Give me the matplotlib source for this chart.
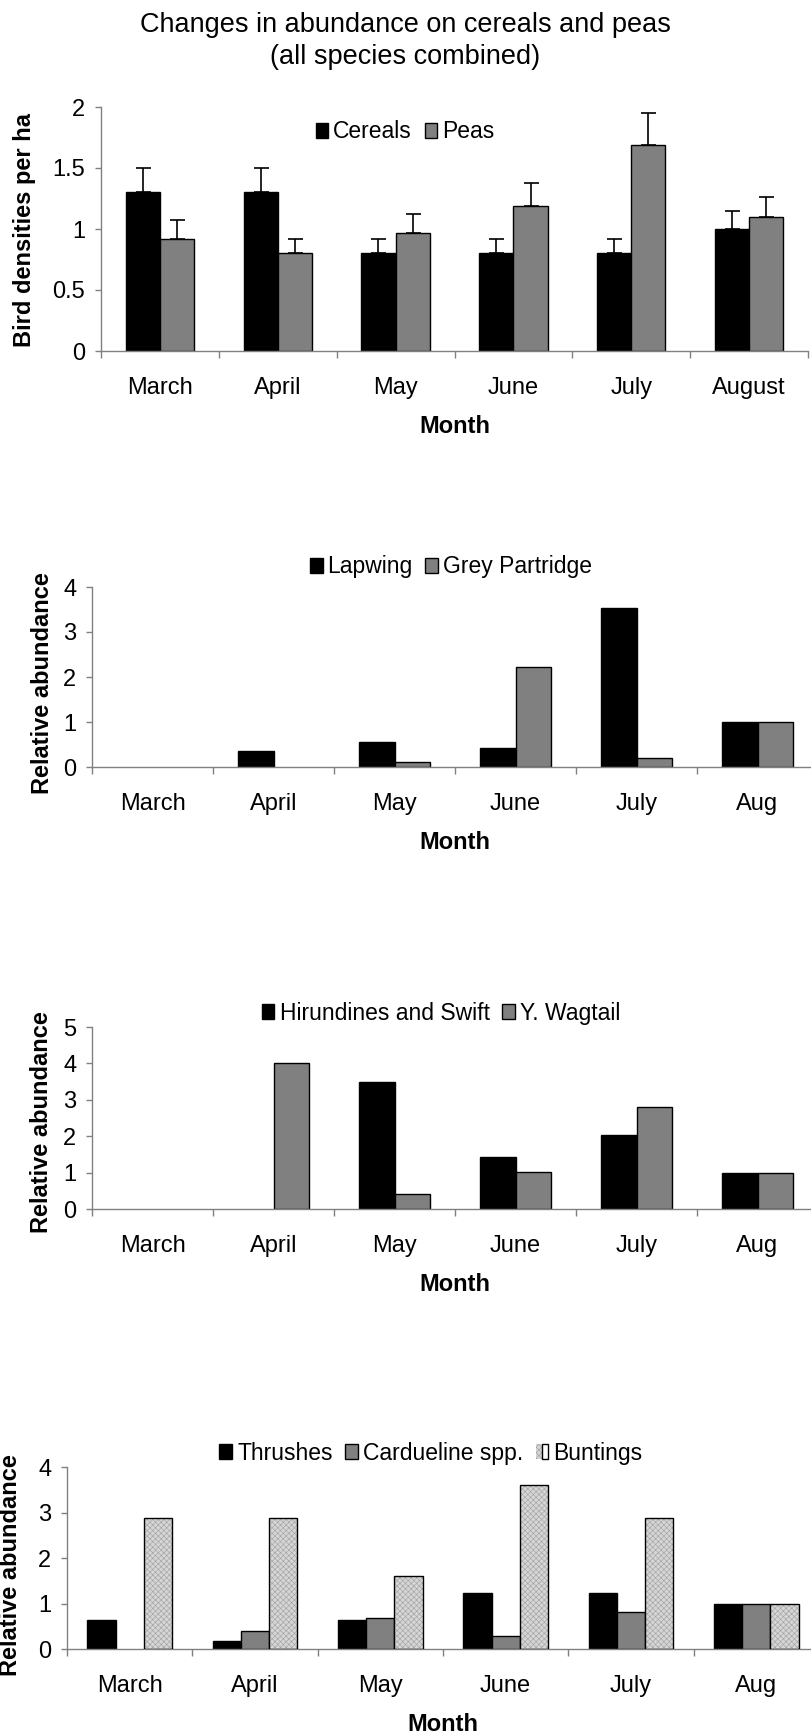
import numpy as np
import matplotlib
matplotlib.use("Agg")
import matplotlib.pyplot as plt
import matplotlib.patches as mpatches
from matplotlib.legend_handler import HandlerTuple

plt.rcParams["font.family"] = ["Liberation Sans", "DejaVu Sans"]
plt.rcParams["hatch.linewidth"] = 0.45

# ---- data ----
months_full = ["March", "April", "May", "June", "July", "August"]
months_short = ["March", "April", "May", "June", "July", "Aug"]

cereals = [1.30, 1.30, 0.80, 0.80, 0.80, 1.00]
cereals_err = [0.20, 0.20, 0.12, 0.12, 0.12, 0.15]
peas = [0.92, 0.80, 0.97, 1.19, 1.69, 1.10]
peas_err = [0.15, 0.12, 0.15, 0.19, 0.26, 0.16]

lapwing = [0, 0.35, 0.55, 0.43, 3.53, 1.0]
grey_partridge = [0, 0, 0.10, 2.23, 0.21, 1.0]

hirundines = [0, 0, 3.50, 1.43, 2.04, 1.0]
y_wagtail = [0, 4.0, 0.42, 1.02, 2.79, 1.0]

thrushes = [0.64, 0.17, 0.64, 1.22, 1.22, 1.0]
cardueline = [0, 0.40, 0.68, 0.29, 0.81, 1.0]
buntings = [2.89, 2.89, 1.61, 3.60, 2.89, 1.0]

W, H = 811, 1735
fig = plt.figure(figsize=(W / 100, H / 100), dpi=100)

BLACK = "#000000"
GREY = "#808080"
AXCOL = "#808080"
HATCH_FACE = "#d6d6d6"
HATCH_COL = "#a4a4a4"
EDGE_LW = 1.0


def px_axes(left, top, right, bottom):
    return fig.add_axes([left / W, 1 - bottom / H, (right - left) / W, (bottom - top) / H])


def style_axes(ax, labels, ymax, ystep, yfmt):
    x = np.arange(len(labels))
    ax.set_xlim(-0.5, len(labels) - 0.5)
    ax.set_ylim(0, ymax)
    yt = np.arange(0, ymax + 1e-9, ystep)
    ax.set_yticks(yt)
    ax.set_yticklabels([yfmt(v) for v in yt])
    ax.set_xticks(x)
    ax.set_xticklabels(labels)
    ax.set_xticks(np.arange(-0.5, len(labels)), minor=True)
    ax.tick_params(axis="x", which="major", length=0, pad=18.5, labelsize=17)
    ax.tick_params(axis="x", which="minor", length=5, width=1, color=AXCOL, direction="out")
    ax.tick_params(axis="y", length=4.3, width=1, color=AXCOL, pad=7, labelsize=17)
    for s in ["top", "right"]:
        ax.spines[s].set_visible(False)
    for s in ["left", "bottom"]:
        ax.spines[s].set_color(AXCOL)
        ax.spines[s].set_linewidth(1.0)
    ax.set_xlabel("Month", fontsize=17, fontweight="bold", labelpad=12)
    ax.set_facecolor("none")


def lw_for(vals):
    return [EDGE_LW if v > 0 else 0 for v in vals]


def fmt_half(v):
    return "0" if v == 0 else ("%g" % v)


# ---- title ----
fig.text(0.5, 1 - 12 / H, "Changes in abundance on cereals and peas\n(all species combined)",
         ha="center", va="top", fontsize=19.5, linespacing=1.28)

leg_kw = dict(frameon=False, fontsize=16.5, handlelength=0.55, handleheight=0.6,
              handletextpad=0.22, columnspacing=0.55, borderpad=0, loc="center",
              handler_map={tuple: HandlerTuple(ndivide=None)})

# ---- panel 1 ----
ax1 = px_axes(101, 107, 808, 351)
x = np.arange(len(months_full))
bw = 0.29
b1 = ax1.bar(x - bw / 2, cereals, bw, color=BLACK, edgecolor=BLACK, linewidth=EDGE_LW,
             yerr=[np.zeros(len(cereals)), cereals_err],
             error_kw=dict(ecolor=BLACK, elinewidth=1.2, capsize=5.4, capthick=1.2),
             zorder=2)
b2 = ax1.bar(x + bw / 2, peas, bw, color=GREY, edgecolor=BLACK, linewidth=EDGE_LW,
             yerr=[np.zeros(len(peas)), peas_err],
             error_kw=dict(ecolor=BLACK, elinewidth=1.2, capsize=5.4, capthick=1.2),
             zorder=2)
style_axes(ax1, months_full, 2, 0.5, fmt_half)
fig.legend([b1.patches[0], b2.patches[0]], ["Cereals", "Peas"], ncol=2,
           bbox_to_anchor=(405 / W, 1 - 132 / H), **leg_kw)
fig.text(24.5 / W, 1 - 230 / H, "Bird densities per ha", rotation=90,
         ha="center", va="center", fontsize=17, fontweight="bold")

# ---- panel 2 ----
ax2 = px_axes(92, 587, 818, 767)
x = np.arange(len(months_short))
bw = 0.29
c1 = ax2.bar(x - bw / 2, lapwing, bw, color=BLACK, edgecolor=BLACK, linewidth=lw_for(lapwing), zorder=2)
c2 = ax2.bar(x + bw / 2, grey_partridge, bw, color=GREY, edgecolor=BLACK,
             linewidth=lw_for(grey_partridge), zorder=2)
style_axes(ax2, months_short, 4, 1, lambda v: "%d" % v)
fig.legend([c1.patches[-1], c2.patches[-1]], ["Lapwing", "Grey Partridge"], ncol=2,
           bbox_to_anchor=(451 / W, 1 - 567 / H), **leg_kw)
fig.text(43 / W, 1 - 683 / H, "Relative abundance", rotation=90,
         ha="center", va="center", fontsize=17, fontweight="bold")

# ---- panel 3 ----
ax3 = px_axes(92, 1027, 818, 1209)
d1 = ax3.bar(x - bw / 2, hirundines, bw, color=BLACK, edgecolor=BLACK,
             linewidth=lw_for(hirundines), zorder=2)
d2 = ax3.bar(x + bw / 2, y_wagtail, bw, color=GREY, edgecolor=BLACK,
             linewidth=lw_for(y_wagtail), zorder=2)
style_axes(ax3, months_short, 5, 1, lambda v: "%d" % v)
fig.legend([d1.patches[-1], d2.patches[-1]], ["Hirundines and Swift", "Y. Wagtail"], ncol=2,
           bbox_to_anchor=(441 / W, 1 - 1013 / H), **leg_kw)
fig.text(42 / W, 1 - 1122 / H, "Relative abundance", rotation=90,
         ha="center", va="center", fontsize=17, fontweight="bold")

# ---- panel 4 ----
ax4 = px_axes(67, 1467, 819, 1649)
bw = 0.225
e1 = ax4.bar(x - bw, thrushes, bw, color=BLACK, edgecolor=BLACK,
             linewidth=lw_for(thrushes), zorder=2)
e2 = ax4.bar(x, cardueline, bw, color=GREY, edgecolor=BLACK,
             linewidth=lw_for(cardueline), zorder=2)
ax4.bar(x + bw, buntings, bw, color=HATCH_FACE, edgecolor=HATCH_COL,
        hatch="xxxxxx", linewidth=0, zorder=2)
ax4.bar(x + bw, buntings, bw, color="none", edgecolor=BLACK,
        linewidth=lw_for(buntings), zorder=3)
style_axes(ax4, months_short, 4, 1, lambda v: "%d" % v)
bunt_handle = (mpatches.Patch(facecolor=HATCH_FACE, edgecolor=HATCH_COL, hatch="xxxxxx", linewidth=0),
               mpatches.Patch(facecolor="none", edgecolor=BLACK, linewidth=EDGE_LW))
fig.legend([e1.patches[-1], e2.patches[-1], bunt_handle], ["Thrushes", "Cardueline spp.", "Buntings"],
           ncol=3, bbox_to_anchor=(431 / W, 1 - 1453 / H), **leg_kw)
fig.text(11 / W, 1 - 1565 / H, "Relative abundance", rotation=90,
         ha="center", va="center", fontsize=17, fontweight="bold")

fig.savefig("out.png", dpi=100)
